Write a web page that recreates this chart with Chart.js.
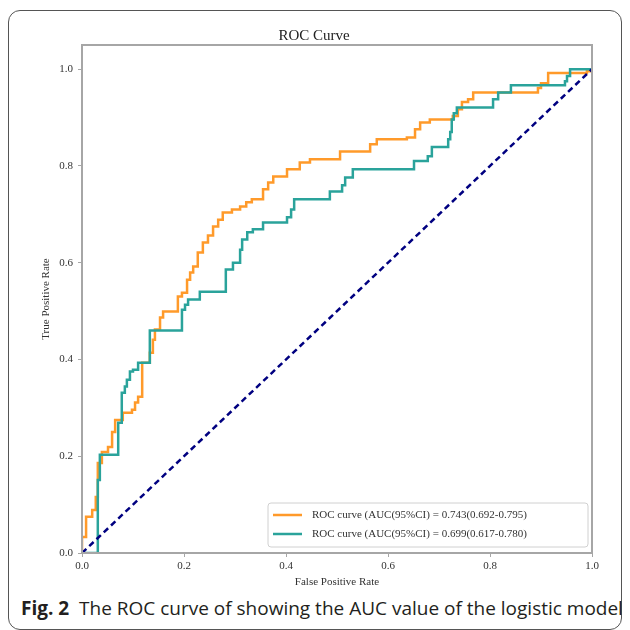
<!DOCTYPE html>
<html>
<head>
<meta charset="utf-8">
<script src="https://cdn.jsdelivr.net/npm/chart.js@4"></script>
<style>
  html, body { margin: 0; padding: 0; background: #fff; }
  #wrap { position: relative; width: 630px; height: 630px; overflow: hidden; }
  #box {
    position: absolute; left: 8px; top: 10px; width: 612px; height: 618px;
    border: 1.5px solid #555; border-radius: 12px;
  }
  #grafico { position: absolute; left: 0; top: 0; }
  #legenda {
    position: absolute; left: 21px; top: 595px;
    font-family: "Open Sans", sans-serif; font-size: 19px; color: #231f20;
    white-space: nowrap;
  }
  #legenda b { font-weight: 700; }
</style>
</head>
<body>
<div id="wrap">
  <div id="box"></div>
  <canvas id="grafico" width="630" height="595"></canvas>
  <div id="legenda"><b>Fig. 2</b>&nbsp; The ROC curve of showing the AUC value of the logistic model</div>
</div>
<script>
// Curva 1 (laranja) - pontos de degrau: x onde a curva sobe, y no topo
const fprLaranja = [0, 0, 0.008, 0.020, 0.027, 0.031, 0.039, 0.051, 0.059, 0.065, 0.080, 0.098, 0.104, 0.110,
  0.118, 0.118, 0.133, 0.139, 0.143, 0.153, 0.159, 0.188, 0.196, 0.206, 0.212, 0.218, 0.227, 0.237, 0.247,
  0.257, 0.267, 0.276, 0.294, 0.310, 0.322, 0.333, 0.355, 0.365, 0.375, 0.402, 0.427, 0.447, 0.506, 0.565,
  0.578, 0.637, 0.653, 0.663, 0.682, 0.727, 0.737, 0.745, 0.757, 0.767, 0.894, 0.900, 0.914, 0.990, 1.0];
const tprLaranja = [0, 0.033, 0.075, 0.089, 0.116, 0.186, 0.209, 0.219, 0.250, 0.275, 0.290, 0.296, 0.311, 0.323,
  0.344, 0.393, 0.414, 0.441, 0.462, 0.487, 0.499, 0.530, 0.538, 0.565, 0.580, 0.592, 0.621, 0.642, 0.656,
  0.675, 0.689, 0.704, 0.710, 0.716, 0.725, 0.731, 0.752, 0.766, 0.778, 0.793, 0.807, 0.814, 0.830, 0.845,
  0.855, 0.859, 0.876, 0.890, 0.896, 0.903, 0.917, 0.932, 0.938, 0.952, 0.961, 0.971, 0.992, 0.996, 1.0];

// Curva 2 (verde-azulada)
const fprVerde = [0, 0.031, 0.035, 0.071, 0.078, 0.084, 0.088, 0.094, 0.100, 0.110, 0.133, 0.196, 0.202, 0.208,
  0.231, 0.282, 0.296, 0.310, 0.314, 0.324, 0.335, 0.355, 0.402, 0.410, 0.416, 0.486, 0.510, 0.516, 0.531,
  0.651, 0.678, 0.686, 0.718, 0.722, 0.725, 0.729, 0.735, 0.806, 0.816, 0.841, 0.947, 0.951, 0.957, 1.0];
const tprVerde = [0, 0.151, 0.203, 0.269, 0.331, 0.344, 0.358, 0.375, 0.379, 0.393, 0.460, 0.503, 0.513, 0.524,
  0.540, 0.586, 0.600, 0.627, 0.648, 0.663, 0.669, 0.683, 0.694, 0.710, 0.731, 0.747, 0.760, 0.776, 0.793,
  0.810, 0.820, 0.839, 0.855, 0.870, 0.896, 0.909, 0.921, 0.938, 0.952, 0.967, 0.975, 0.986, 1.0, 1.0];

// Linha de referência
const fprAcaso = [0, 1];
const tprAcaso = [0, 1];

const rotulos = [
  "ROC curve (AUC(95%CI) = 0.743(0.692-0.795)",
  "ROC curve (AUC(95%CI) = 0.699(0.617-0.780)"
];
const ticksX = [0, 0.2, 0.4, 0.6, 0.8, 1.0];
const ticksY = [0, 0.2, 0.4, 0.6, 0.8, 1.0];

const pontos = (xs, ys) => xs.map((x, i) => ({ x: x, y: ys[i] }));

const corLaranja = "#ff9a2a";
const corVerde = "#2aa39b";
const corFrame = "#a6a6a6";
const fonteSerif = "'Liberation Serif', 'DejaVu Serif', serif";

// moldura nos quatro lados + legenda dentro do gráfico
const pluginMoldura = {
  id: "moldura",
  afterDatasetsDraw(chart) {
    const { ctx, chartArea: a } = chart;
    ctx.save();
    ctx.strokeStyle = corFrame;
    ctx.lineWidth = 2;
    ctx.strokeRect(a.left, a.top, a.right - a.left, a.bottom - a.top);

    // legenda
    const x0 = 268, y0 = 503, w = 320, h = 44;
    ctx.fillStyle = "rgba(255,255,255,0.85)";
    ctx.strokeStyle = "#d0d0d0";
    ctx.lineWidth = 1;
    ctx.beginPath();
    ctx.roundRect(x0, y0, w, h, 3);
    ctx.fill();
    ctx.stroke();
    const itens = chart.data.datasets.filter(d => d.noLegenda !== true);
    itens.forEach((d, i) => {
      const y = y0 + 12 + i * 19;
      ctx.strokeStyle = d.borderColor;
      ctx.lineWidth = 2.5;
      ctx.beginPath();
      ctx.moveTo(x0 + 5, y);
      ctx.lineTo(x0 + 34, y);
      ctx.stroke();
      ctx.fillStyle = "#333";
      ctx.font = "11px " + fonteSerif;
      ctx.textBaseline = "middle";
      ctx.fillText(d.label, x0 + 44, y);
    });
    ctx.restore();
  }
};

document.addEventListener("DOMContentLoaded", () => {
  const ctx = document.getElementById("grafico").getContext("2d");

  new Chart(ctx, {
    type: "line",
    data: {
      datasets: [
        {
          label: rotulos[0],
          data: pontos(fprLaranja, tprLaranja),
          borderColor: corLaranja,
          borderWidth: 2.5,
          stepped: "before",
          pointRadius: 0,
          order: 3
        },
        {
          label: rotulos[1],
          data: pontos(fprVerde, tprVerde),
          borderColor: corVerde,
          borderWidth: 2.5,
          stepped: "before",
          pointRadius: 0,
          order: 2
        },
        {
          label: "acaso",
          noLegenda: true,
          data: pontos(fprAcaso, tprAcaso),
          borderColor: "#000080",
          borderWidth: 2.5,
          borderDash: [6, 4],
          pointRadius: 0,
          order: 1
        }
      ]
    },
    options: {
      responsive: false,
      animation: false,
      layout: { padding: { left: 36, right: 38, top: 27, bottom: 0 } },
      plugins: {
        legend: { display: false },
        tooltip: { enabled: false },
        title: {
          display: true,
          text: "ROC Curve",
          color: "#222",
          font: { family: fonteSerif, size: 15, weight: "normal" },
          padding: { top: 0, bottom: 0 }
        }
      },
      scales: {
        x: {
          type: "linear",
          min: 0,
          max: 1,
          afterFit(scale) { scale.height = 42; },
          afterBuildTicks(scale) { scale.ticks = ticksX.map(v => ({ value: v })); },
          ticks: {
            callback: v => v.toFixed(1),
            color: "#333",
            font: { family: fonteSerif, size: 11 },
            padding: 3,
            maxRotation: 0
          },
          grid: { drawOnChartArea: false, drawTicks: true, tickLength: 4, color: corFrame },
          border: { display: false },
          title: {
            display: true,
            text: "False Positive Rate",
            color: "#333",
            font: { family: fonteSerif, size: 11 },
            padding: { top: 0, bottom: 6 }
          }
        },
        y: {
          min: 0,
          max: 1.05,
          afterFit(scale) { scale.width = 46; },
          afterBuildTicks(scale) { scale.ticks = ticksY.map(v => ({ value: v })); },
          ticks: {
            callback: v => v.toFixed(1),
            color: "#333",
            font: { family: fonteSerif, size: 11 },
            padding: 5
          },
          grid: { drawOnChartArea: false, drawTicks: true, tickLength: 4, color: corFrame },
          border: { display: false },
          title: {
            display: true,
            text: "True Positive Rate",
            color: "#333",
            font: { family: fonteSerif, size: 11 },
            padding: { top: 4, bottom: 0 }
          }
        }
      }
    },
    plugins: [pluginMoldura]
  });
});
</script>
</body>
</html>
